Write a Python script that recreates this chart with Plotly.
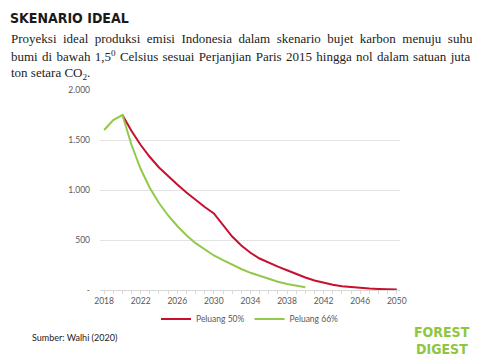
import plotly.graph_objects as go

years_50 = list(range(2020, 2051))
peluang_50 = [1750, 1590, 1450, 1330, 1225, 1135, 1055, 975, 900, 830, 765,
              645, 535, 445, 372, 315, 270, 233, 198, 160, 125,
              95, 70, 52, 38, 28, 20, 14, 10, 7, 5]
years_66 = list(range(2018, 2041))
peluang_66 = [1600, 1700, 1750, 1450, 1210, 1020, 870, 745, 640, 548, 468, 402, 345,
              298, 253, 210, 172, 140, 110, 82, 60, 42, 28]

x_tickvals = [2018, 2022, 2026, 2030, 2034, 2038, 2042, 2046, 2050]
y_tickvals = [0, 500, 1000, 1500, 2000]
y_ticktext = ["-", "500", "1.000", "1.500", "2.000"]

title = "SKENARIO IDEAL"
sub_words = [
    "Proyeksi ideal produksi emisi Indonesia dalam skenario bujet karbon menuju suhu".split(" "),
    "bumi di bawah 1,5<sup>0</sup> Celsius sesuai Perjanjian Paris 2015 hingga nol dalam satuan juta".split(" "),
    "ton setara CO<sub>2</sub>.".split(" "),
]
source = "Sumber: Walhi (2020)"

RED = "#C8102E"
GREEN = "#92C94A"

OFF = 8  # page body margin offset
W, H = 480 - OFF, 360 - OFF
L, T = 100 - OFF, 90 - OFF
R = W - (400 - OFF)
B = H - (290 - OFF)
PW, PH = W - L - R, H - T - B


def px(x):
    return (x - OFF - L) / PW


def py(y):
    return (H - B - (y - OFF)) / PH


fig = go.Figure()
fig.add_trace(go.Scatter(x=years_50, y=peluang_50, mode="lines", name="Peluang 50%",
                         line=dict(color=RED, width=2)))
fig.add_trace(go.Scatter(x=years_66, y=peluang_66, mode="lines", name="Peluang 66%",
                         line=dict(color=GREEN, width=2)))

TICKFONT = dict(family="Lato", size=8.5, color="#595959")

fig.update_layout(
    width=W, height=H,
    margin=dict(l=L, r=R, t=T, b=B, autoexpand=False),
    paper_bgcolor="white", plot_bgcolor="white",
    showlegend=True,
    legend=dict(orientation="h", x=0.5, xanchor="center", y=py(319), yanchor="middle",
                font=TICKFONT, itemwidth=30, tracegroupgap=0, bgcolor="rgba(0,0,0,0)"),
    xaxis=dict(range=[2017.55, 2050.35], tickvals=x_tickvals, showgrid=False,
               showline=True, linecolor="#d9d9d9", linewidth=1,
               ticks="outside", ticklen=3, tickcolor="#d9d9d9",
               tickfont=TICKFONT, zeroline=False),
    yaxis=dict(range=[0, 2000], tickvals=y_tickvals, ticktext=y_ticktext,
               showgrid=True, gridcolor="#e3e3e3", gridwidth=1, zeroline=False,
               tickfont=TICKFONT, ticks="", ticklabelstandoff=9, showline=False),
)

fig.update_xaxes(minor=dict(dtick=1, ticks="outside", ticklen=3, tickcolor="#d9d9d9"))

fig.add_shape(type="rect", xref="paper", yref="paper", x0=px(10), x1=px(42), y0=py(0), y1=py(4),
              fillcolor=GREEN, line_width=0)

annots = []
annots.append(dict(text="<b>" + title + "</b>", x=px(8), y=py(18), xref="paper", yref="paper",
                   xanchor="left", yanchor="middle", showarrow=False,
                   font=dict(family="DejaVu Sans Condensed", size=14, color="#1a1a1a")))
# justified paragraph lines: extra unicode spacing per gap
gaps = [" \u2005", " \u200a", " "]
for words, gap, yy in zip(sub_words, gaps, [38, 56, 73]):
    annots.append(dict(text=gap.join(words), x=px(9), y=py(yy), xref="paper", yref="paper",
                       xanchor="left", yanchor="middle", showarrow=False,
                       font=dict(family="Liberation Serif", size=13, color="#222222")))
annots.append(dict(text=source, x=px(30), y=py(337), xref="paper", yref="paper",
                   xanchor="left", yanchor="middle", showarrow=False,
                   font=dict(family="Lato", size=9, color="#222222")))
annots.append(dict(text="<b>FOREST</b>", x=px(442), y=py(332), xref="paper", yref="paper",
                   xanchor="center", yanchor="middle", showarrow=False,
                   font=dict(family="DejaVu Sans Condensed", size=14, color="#8DC63F")))
annots.append(dict(text="<b>DIGEST</b>", x=px(442), y=py(349), xref="paper", yref="paper",
                   xanchor="center", yanchor="middle", showarrow=False,
                   font=dict(family="DejaVu Sans Condensed", size=14, color="#8DC63F")))
fig.update_layout(annotations=annots)

fig.write_html("out.html")
